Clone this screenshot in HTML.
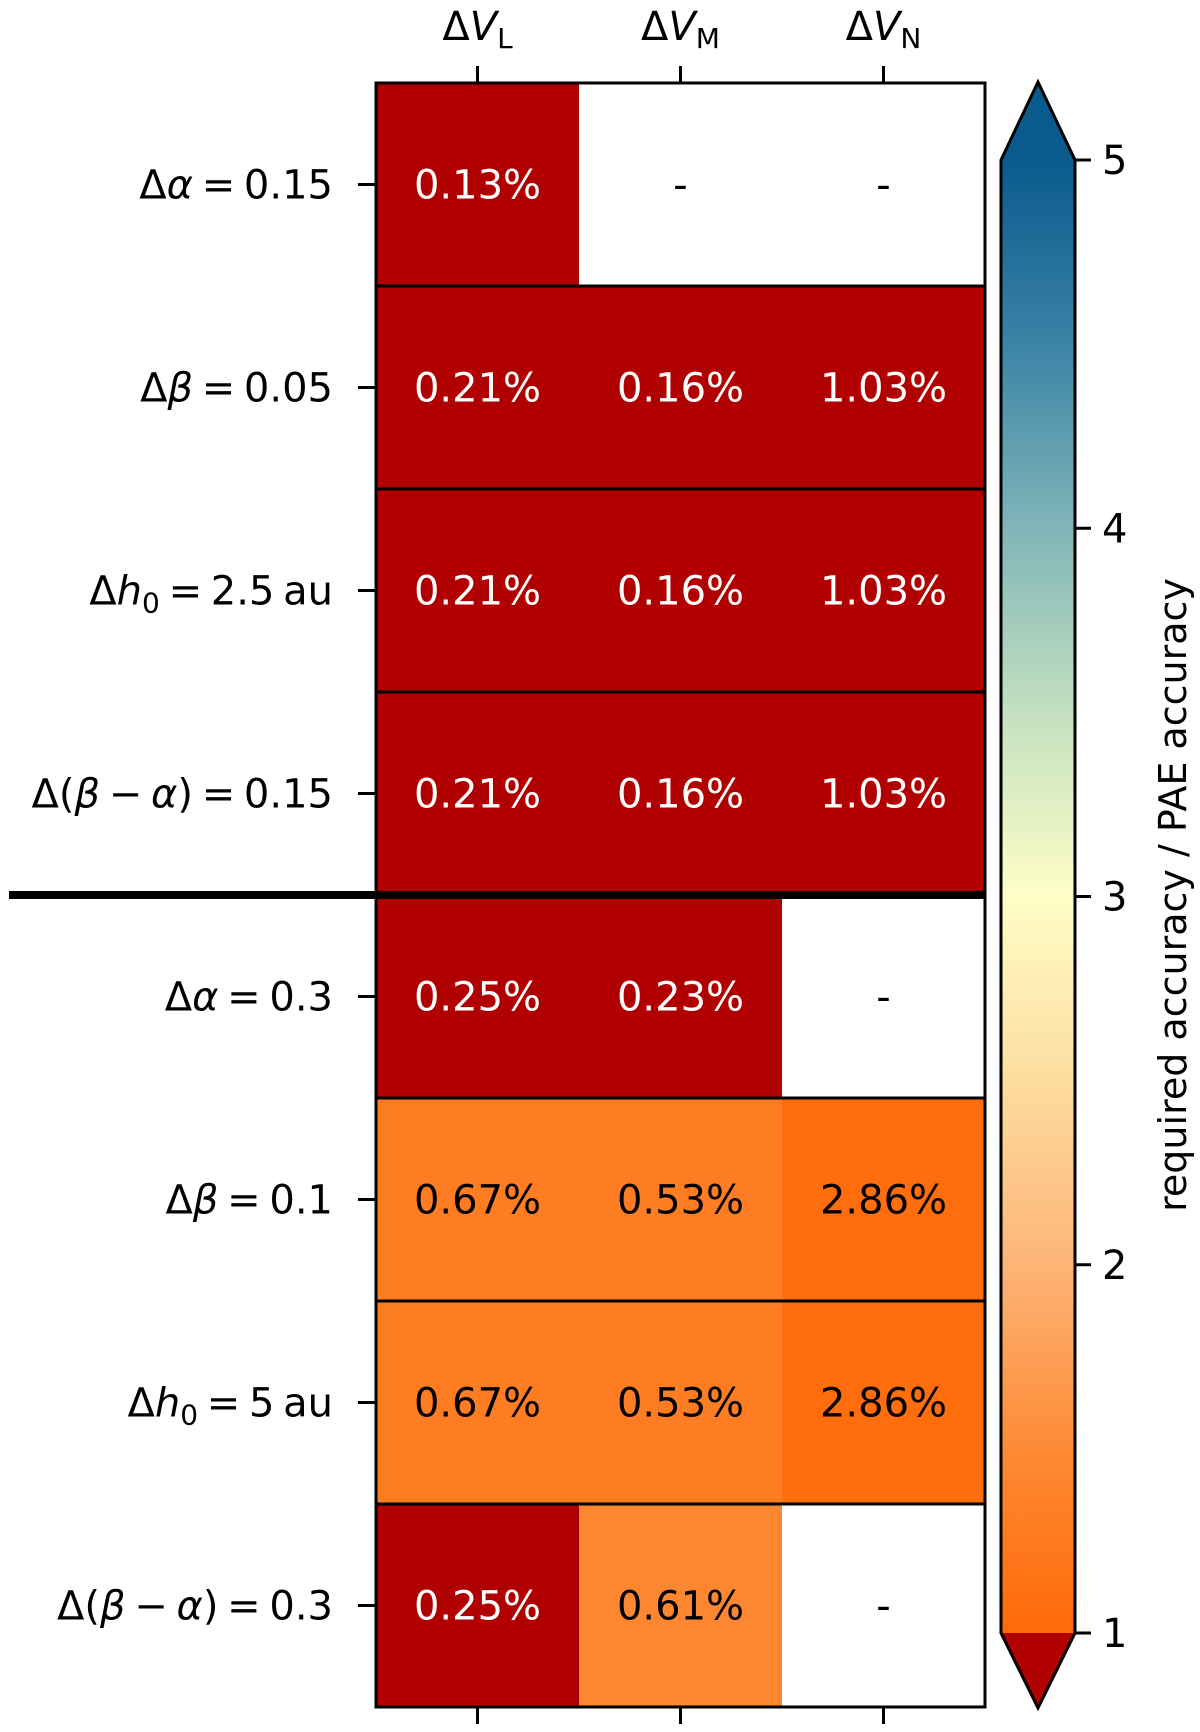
<!DOCTYPE html>
<html><head><meta charset="utf-8">
<style>
html,body{margin:0;padding:0;background:#fff;}
svg{display:block;font-family:"DejaVu Sans","Liberation Sans",sans-serif;}
</style></head>
<body>
<svg id="chart" width="1200" height="1732" viewBox="0 0 1200 1732" xmlns="http://www.w3.org/2000/svg">
<defs>
<linearGradient id="cbgrad" x1="0" y1="1" x2="0" y2="0">
<stop offset="0" stop-color="#ff6a08"/>
<stop offset="0.125" stop-color="#fd8a35"/>
<stop offset="0.25" stop-color="#fdb476"/>
<stop offset="0.375" stop-color="#fddc9f"/>
<stop offset="0.5" stop-color="#fefec6"/>
<stop offset="0.625" stop-color="#c3e0c0"/>
<stop offset="0.75" stop-color="#80b5b8"/>
<stop offset="0.875" stop-color="#3b83a6"/>
<stop offset="1" stop-color="#0a5a8e"/>
</linearGradient>
</defs>
<g id="cells"></g>
<g id="labels"></g>
</svg>
<script>
// row labels as segments: [text, italic?, subscript?]
const rowLabels = [
 [["Δ",0],["α",1],[" = 0.15",0]],
 [["Δ",0],["β",1],[" = 0.05",0]],
 [["Δ",0],["h",1],["0",2],[" = 2.5 au",0]],
 [["Δ(",0],["β",1],[" − ",0],["α",1],[") = 0.15",0]],
 [["Δ",0],["α",1],[" = 0.3",0]],
 [["Δ",0],["β",1],[" = 0.1",0]],
 [["Δ",0],["h",1],["0",2],[" = 5 au",0]],
 [["Δ(",0],["β",1],[" − ",0],["α",1],[") = 0.3",0]]
];
const colLabels = ["L","M","N"];
const cellText = [
 ["0.13%","-","-"],
 ["0.21%","0.16%","1.03%"],
 ["0.21%","0.16%","1.03%"],
 ["0.21%","0.16%","1.03%"],
 ["0.25%","0.23%","-"],
 ["0.67%","0.53%","2.86%"],
 ["0.67%","0.53%","2.86%"],
 ["0.25%","0.61%","-"]
];
// ratio required accuracy / PAE accuracy (null = no value)
const ratios = [
 [0.5,null,null],
 [0.5,0.5,0.5],
 [0.5,0.5,0.5],
 [0.5,0.5,0.5],
 [0.5,0.5,null],
 [1.3,1.3,1.05],
 [1.3,1.3,1.05],
 [0.5,1.45,null]
];
const cbTicks = [1,2,3,4,5];

const NS="http://www.w3.org/2000/svg";
const X0=376, X1=985, Y0=83, Y1=1707;
const cw=(X1-X0)/colLabels.length, rh=(Y1-Y0)/rowLabels.length;
const xc=i=>X0+cw*(i+0.5), yr=j=>Y0+rh*j;
const CB0=1633, CB1=160, CBX=1001, CBW=74;
const cbY=v=>CB0+(v-1)/4*(CB1-CB0);
const stops=[[1,[255,106,8]],[1.5,[253,138,53]],[2,[253,180,118]],[2.5,[253,220,159]],[3,[254,254,198]],[3.5,[195,224,192]],[4,[128,181,184]],[4.5,[59,131,166]],[5,[10,90,142]]];
function cmap(v){
 if(v<1) return "#b00000";
 if(v>5) return "#0a5a8e";
 for(let k=0;k<stops.length-1;k++){
  const a=stops[k],b=stops[k+1];
  if(v<=b[0]){const t=(v-a[0])/(b[0]-a[0]);
   const c=a[1].map((x,i)=>Math.round(x+(b[1][i]-x)*t));return `rgb(${c})`;}
 }
}
function el(tag,attrs,parent){const e=document.createElementNS(NS,tag);for(const k in attrs)e.setAttribute(k,attrs[k]);parent.appendChild(e);return e;}
const cells=document.getElementById('cells');
const labels=document.getElementById('labels');

for(let j=0;j<rowLabels.length;j++){
 for(let i=0;i<colLabels.length;i++){
  const v=ratios[j][i];
  const r=el('rect',{x:X0+cw*i,y:yr(j),width:cw+0.5,height:rh+0.5,fill:v===null?"#fff":cmap(v)},cells);
  
  
  const t=el('text',{x:xc(i),y:yr(j)+rh/2+14,'text-anchor':'middle','font-size':40,fill:(v!==null&&v<1)?"#fff":"#000"},labels);
  t.textContent=cellText[j][i];
  
  
 }
}
for(let j=1;j<rowLabels.length;j++){
 const thick=j===4;
 const l=el('line',{x1:thick?9:X0,x2:X1,y1:yr(j),y2:yr(j),stroke:"#000",'stroke-width':thick?8:3},labels);
 
 
}
const frame=el('rect',{x:X0,y:Y0,width:X1-X0,height:Y1-Y0,fill:"none",stroke:"#000",'stroke-width':3},labels);


for(let j=0;j<rowLabels.length;j++){
 const t=el('text',{x:333,y:yr(j)+rh/2+14,'text-anchor':'end','font-size':40,fill:"#000",'word-spacing':-4},labels);
 
 
 let shifted=false;
 for(const [s,st] of rowLabels[j]){
  const sp=document.createElementNS(NS,'tspan');
  if(st===1) sp.setAttribute('font-style','italic');
  if(st===2){sp.setAttribute('font-size',28);sp.setAttribute('dy',8);shifted=true;}
  else if(shifted){sp.setAttribute('dy',-8);shifted=false;}
  sp.textContent=s;t.appendChild(sp);
 }
 const tk=el('line',{x1:358,x2:X0,y1:yr(j)+rh/2,y2:yr(j)+rh/2,stroke:"#000",'stroke-width':3},labels);
 
 
}
for(let i=0;i<colLabels.length;i++){
 const t=el('text',{x:xc(i),y:40,'text-anchor':'middle','font-size':40,fill:"#000"},labels);
 
 
 t.appendChild(document.createTextNode('Δ'));
 const v=document.createElementNS(NS,'tspan');v.setAttribute('font-style','italic');v.textContent='V';t.appendChild(v);
 const s=document.createElementNS(NS,'tspan');s.setAttribute('font-size',28);s.setAttribute('dy',8);s.textContent=colLabels[i];t.appendChild(s);
 for(const [a,b] of [[66,Y0],[Y1,1724]]){
  const tk=el('line',{x1:xc(i),x2:xc(i),y1:a,y2:b,stroke:"#000",'stroke-width':3},labels);
  
  
 }
}
const cb=el('rect',{x:CBX,y:CB1,width:CBW,height:CB0-CB1,fill:"url(#cbgrad)"},labels);


const up=el('polygon',{points:`${CBX},${CB1} ${CBX+CBW/2},82 ${CBX+CBW},${CB1}`,fill:"#0a5a8e"},labels);


const dn=el('polygon',{points:`${CBX},${CB0} ${CBX+CBW/2},1708 ${CBX+CBW},${CB0}`,fill:"#b00000"},labels);


const out=el('polygon',{points:`${CBX},${CB1} ${CBX+CBW/2},82 ${CBX+CBW},${CB1} ${CBX+CBW},${CB0} ${CBX+CBW/2},1708 ${CBX},${CB0}`,fill:"none",stroke:"#000",'stroke-width':3},labels);


for(const v of cbTicks){
 const y=cbY(v);
 const tk=el('line',{x1:CBX+CBW,x2:CBX+CBW+16,y1:y,y2:y,stroke:"#000",'stroke-width':3},labels);
 
 
 const t=el('text',{x:1102,y:y+14,'font-size':40,fill:"#000"},labels);
 t.textContent=String(v);
 
 
}
const cl=el('text',{x:0,y:0,'text-anchor':'middle','font-size':38,fill:"#000",transform:"translate(1186,895) rotate(-90)"},labels);
cl.textContent="required accuracy / PAE accuracy";


</script>
</body></html>
